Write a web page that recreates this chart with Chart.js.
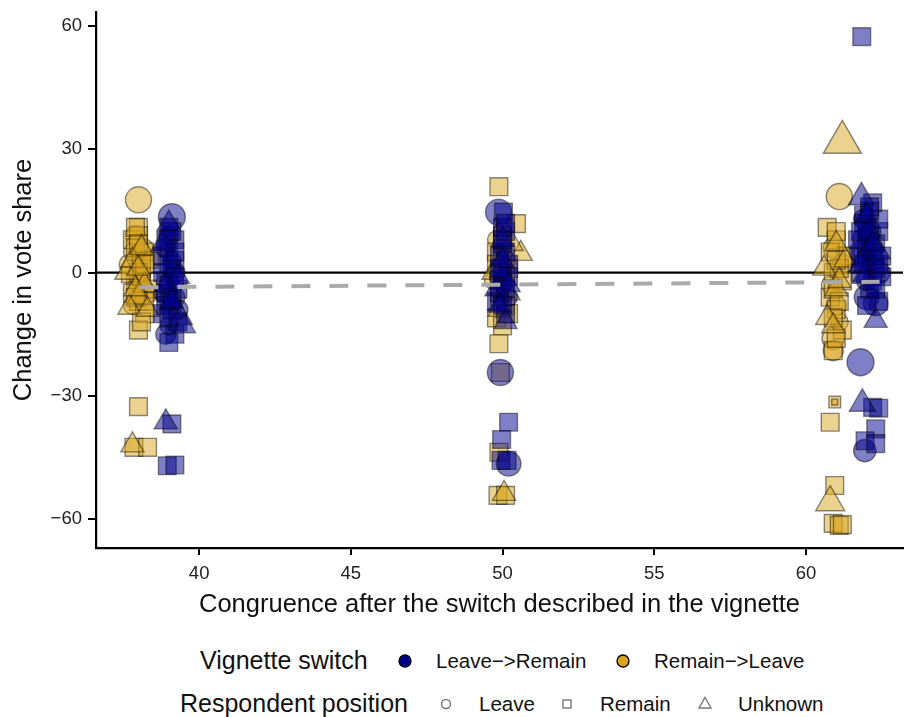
<!DOCTYPE html>
<html>
<head>
<meta charset="utf-8">
<script src="https://cdn.jsdelivr.net/npm/chart.js@4"></script>
<style>
  body { margin: 0; background: #fff; font-family: "Liberation Sans", Arial, sans-serif; }
  #wrap { position: relative; width: 905px; height: 717px; }
  #chartBox { position: absolute; left: 0; top: 0; width: 905px; height: 622px; }
  .lg { position: absolute; white-space: nowrap; color: #111; line-height: 1; }
  .lg.title { font-size: 25px; }
  .lg.item { font-size: 20.5px; }
  .mk { position: absolute; }
</style>
</head>
<body>
<div id="wrap">
  <div id="chartBox"><canvas id="chart" width="905" height="622"></canvas></div>

  <div class="lg title" style="left:200px; top:648px;">Vignette switch</div>
  <svg class="mk" style="left:397px; top:653px;" width="16" height="16"><circle cx="8" cy="8" r="6" fill="#00008b" stroke="#000" stroke-width="1.3"/></svg>
  <div class="lg item" style="left:436px; top:651px;">Leave−&gt;Remain</div>
  <svg class="mk" style="left:615px; top:653px;" width="16" height="16"><circle cx="8" cy="8" r="6" fill="#daa520" stroke="#000" stroke-width="1.3"/></svg>
  <div class="lg item" style="left:654px; top:651px;">Remain−&gt;Leave</div>

  <div class="lg title" style="left:180px; top:691px;">Respondent position</div>
  <svg class="mk" style="left:438px; top:696px;" width="16" height="16"><circle cx="8" cy="8" r="4.5" fill="none" stroke="#777" stroke-width="1.4"/></svg>
  <div class="lg item" style="left:479px; top:694px;">Leave</div>
  <svg class="mk" style="left:559px; top:696px;" width="16" height="16"><rect x="4" y="4" width="8" height="8" fill="none" stroke="#777" stroke-width="1.4"/></svg>
  <div class="lg item" style="left:600px; top:694px;">Remain</div>
  <svg class="mk" style="left:697px; top:695px;" width="16" height="16"><polygon points="8,2.5 14,13 2,13" fill="none" stroke="#777" stroke-width="1.4"/></svg>
  <div class="lg item" style="left:738px; top:694px;">Unknown</div>
</div>

<script>
// x = congruence after switch, y = change in vote share, n = cell size
// Leave->Remain switch
const lrLeaveX = [39.1, 38.9, 39.2, 38.8, 39.3, 39.0, 39.1, 39.0, 39.2, 38.9,
  49.87, 50.0, 49.9, 50.2, 49.93, 50.2,
  61.9, 62.2, 62.0, 62.3, 61.8, 61.94, 61.9, 62.1, 61.8, 62.4, 62.0];
const lrLeaveY = [13.5, 6, 0, -5, -9, -13, 3, 9, -6, -15,
  14.7, 6, -1, -6, -24.3, -46.5,
  8, 3, -2, -7.5, -21.8, -43.3, 13, 10, 5, 0, -6];
const lrLeaveN = [5, 3.5, 3.5, 3, 3.5, 3, 3, 3.5, 3.5, 3.5,
  4.8, 3, 3.5, 3, 4.8, 4.5,
  4, 4, 3.5, 4.5, 5, 4, 3.5, 4, 4, 4, 4.5];

const lrRemainX = [39.0, 39.2, 38.8, 39.1, 38.9, 39.3, 39.0, 38.8, 39.2, 39.0, 39.1, 38.95, 39.2,
  39.0, 39.2, 38.9, 39.1, 39.3, 38.8, 39.0, 39.1, 38.9, 39.0, 39.2, 38.9, 39.1, 39.0, 39.2,
  50.03, 50.1, 49.9, 50.2, 50.0, 49.8, 50.1, 50.2, 49.97, 49.95, 50.15,
  50.0, 50.1, 49.9, 50.0, 50.2, 50.0, 50.1, 49.9, 50.0, 50.1,
  61.84, 62.2, 61.9, 62.4, 62.0, 62.3, 61.8, 62.5, 62.1, 62.4, 62.2, 62.4, 62.3, 61.95, 62.3,
  61.9, 62.1, 62.3, 62.0, 61.8, 62.2, 62.4, 61.7, 62.5, 62.1,
  62.0, 62.2, 61.9, 62.3, 62.1, 61.8, 62.4, 62.0];
const lrRemainY = [11, 8, 4, 1, -2, -4, -7, -10, -15, -17, -36.8, -47, -46.8,
  6, 3, -5, -9, -12, 0, -3, 10, 8, 2, -1, -8, -6, -11, 5,
  14.7, 10, 4, 2, -2, -7, -10, -36.4, -40.6, -45.7, -45.7,
  0, 5, -5, 11, -1, 8, -4, 1, -8, 12,
  57.4, 17, 14, 10, 6, 1, 4, -1, -4, -7, -32.8, -33, -38, -40.9, -41.6,
  12, 9, 7, 3, 0, -2, 13, 8, 4, 15,
  11, 5, 2, -4, 16, 10, 2, -8];
const lrRemainN = [3.5, 3.5, 3.5, 3.5, 3.5, 3.5, 3.5, 3.5, 3.5, 3.5, 3.5, 3.5, 3.5,
  3.5, 3.5, 3.5, 3.5, 3.5, 3.5, 3.5, 3.5, 3.5, 3.5, 3.5, 3.5, 3.5, 3.5, 3.5,
  3.5, 3.5, 3.5, 3.5, 3.5, 3.5, 3.5, 3.5, 3.5, 3.5, 3.5,
  3.5, 3.5, 3.5, 3.5, 3.5, 3.5, 3.5, 3.5, 3.5, 3.5,
  3.5, 3.5, 3.5, 3.5, 3.5, 3.5, 3.5, 3.5, 3.5, 3.5, 3.5, 3.5, 3.5, 3.5, 3.5,
  3.5, 3.5, 3.5, 3.5, 3.5, 3.5, 3.5, 3.5, 3.5, 3.5,
  3.5, 3.5, 3.5, 3.5, 3.5, 3.5, 3.5, 3.5];

const lrUnknownX = [39.0, 39.3, 38.9, 39.4, 39.5, 38.9, 38.8, 39.1,
  50.0, 50.2, 49.8, 50.1, 50.0, 49.9,
  61.83, 62.1, 62.4, 61.9, 62.3, 61.86, 62.0, 62.2, 61.8];
const lrUnknownY = [12, -1, -3, -11, -13, -36.4, 7, -7,
  8, -3, -4, -12, 3, -8,
  18.3, 10, 5, -1, -11.7, -31.9, 14, 7, 2];
const lrUnknownN = [3, 3, 3, 3, 3, 3, 3, 3,
  3, 3, 3, 3, 3, 3,
  3.5, 3, 3, 3, 3, 3.5, 3, 3, 3];

// Remain->Leave switch
const rlLeaveX = [38.0, 37.9, 38.2, 37.7, 38.1, 38.3, 37.8, 38.0, 38.0, 37.8,
  49.8, 50.1, 49.7, 50.0, 50.0,
  61.1, 60.9, 61.2, 60.8, 60.9, 61.1, 61.0, 60.9];
const rlLeaveY = [17.7, 9, 6, 2, -1, -5, -8, 4, -3, 5,
  8, 3, -2, -6, 10,
  18.5, 6, 2, -3, -16, -12, -8, -19];
const rlLeaveN = [4.8, 3.5, 3, 3.5, 3, 3.5, 3, 3, 3.5, 3,
  3, 3.5, 3, 3, 3,
  4.8, 3.5, 3.5, 3, 4, 3, 3.5, 3.5];

const rlRemainX = [38.0, 37.8, 38.2, 38.1, 37.9, 38.3, 38.0, 38.2, 38.0, 37.7, 38.4, 38.0, 37.85, 38.3,
  38.0, 37.9, 38.1, 38.0, 37.8, 38.2, 37.9, 38.1, 38.0, 38.1, 37.9, 38.2,
  49.88, 50.46, 50.0, 49.8, 50.2, 49.9, 50.1, 49.8, 50.0, 49.88, 49.93, 49.88, 49.85, 50.1,
  50.0, 49.9, 50.1, 50.0, 49.8, 50.2,
  60.7, 61.0, 61.3, 60.9, 61.2, 60.8, 61.0, 61.2, 60.9, 60.95, 60.95, 60.8, 60.95, 60.9, 61.1, 61.2,
  61.0, 60.8, 61.1, 60.9, 61.1, 60.9, 61.0, 61.0];
const rlRemainY = [11, 8, 5, 1, -2, -4, -7, -10, -14, -0.5, 3, -32.6, -42.5, -42.5,
  9, 6, 3, 0, -5, -7, 11, -12, 7, -1, -6, 2,
  20.9, 11.9, 9, 5, 1, -3, -8, -11, -13, -17.3, -24.3, -43.7, -54.2, -54.2,
  4, -6, -1, 7, 2, -10,
  11, 8, 4, 0, -2, -6, -9, -14, -19, -31.5, -31.5, -36.4, -51.8, -61, -61.5, -61.3,
  10, 5, 1, -4, -7, -11, -16, 3];
const rlRemainN = [3.5, 3.5, 3.5, 3.5, 3.5, 3.5, 3.5, 3.5, 3.5, 3, 3, 3.5, 3.5, 3.5,
  3.5, 3.5, 3.5, 3.5, 3.5, 3.5, 3.5, 3.5, 3.5, 3.5, 3.5, 3.5,
  3.5, 3.5, 3.5, 3.5, 3.5, 3.5, 3.5, 3.5, 3.5, 3.5, 3.5, 3.5, 3.5, 3.5,
  3.5, 3.5, 3.5, 3.5, 3.5, 3.5,
  3.5, 3.5, 3.5, 3.5, 3.5, 3.5, 3.5, 3.5, 3.5, 2, 0.6, 3.5, 3.5, 3.5, 3.5, 3.5,
  3.5, 3.5, 3.5, 3.5, 3.5, 3.5, 3.5, 3.5];

const rlUnknownX = [37.6, 37.8, 38.2, 38.0, 37.7, 38.3, 37.8, 38.0, 37.9, 38.1,
  50.6, 49.7, 50.2, 49.9, 50.3, 50.05, 50.0, 49.9,
  61.2, 60.6, 61.0, 60.7, 61.3, 60.8, 61.0, 61.1, 60.9];
const rlUnknownY = [0, 3, -3, -6, -8.5, -9, -42, 1, -4, 6,
  4.6, 0, -5, -9, 7, -53.8, -2, 2,
  31.7, 1, -4, -11, 3, -55.9, 7, -2, -13];
const rlUnknownN = [3, 3, 3, 3, 3, 3, 3, 3, 3, 3,
  3, 3, 3, 3, 3, 3, 3, 3,
  5.5, 3, 3, 3, 3, 4, 3, 3, 3];

// linear fit
const fitX = [38.03, 62.43];
const fitY = [-3.57, -2.25];

const xTicks = [40, 45, 50, 55, 60];
const yTicks = [-60, -30, 0, 30, 60];

const BLUE = "rgba(0, 0, 139, 0.5)";
const GOLD = "rgba(218, 165, 32, 0.5)";
const EDGE = "rgba(0, 0, 0, 0.45)";

function pts(xs, ys, ns) {
  return xs.map((x, i) => ({ x: x, y: ys[i], n: ns[i] }));
}

function sizeOf(n) {
  return 2 + 2.3 * n;
}

function pointSet(label, xs, ys, ns, color, shape, factor) {
  return {
    label: label,
    data: pts(xs, ys, ns),
    pointStyle: shape,
    backgroundColor: color,
    borderColor: EDGE,
    borderWidth: 1.4,
    pointRadius: ctx => sizeOf(ctx.raw.n) * factor,
    pointHoverRadius: ctx => sizeOf(ctx.raw.n) * factor,
    order: 2
  };
}

const zeroLine = {
  id: "zeroLine",
  beforeDatasetsDraw(chart) {
    const { ctx, chartArea, scales } = chart;
    const y = scales.y.getPixelForValue(0);
    ctx.save();
    ctx.strokeStyle = "#000";
    ctx.lineWidth = 2.2;
    ctx.beginPath();
    ctx.moveTo(chartArea.left, y);
    ctx.lineTo(chartArea.right, y);
    ctx.stroke();
    ctx.restore();
  }
};

const font = { family: "'Liberation Sans', Arial, sans-serif" };

new Chart(document.getElementById("chart"), {
  type: "scatter",
  data: {
    datasets: [
      {
        label: "fit",
        data: pts(fitX, fitY, [0, 0]),
        showLine: true,
        borderColor: "#aaaaaa",
        borderWidth: 4,
        borderDash: [19, 19],
        pointRadius: 0,
        order: 0
      },
      // first listed is drawn on top
      pointSet("LR Unknown", lrUnknownX, lrUnknownY, lrUnknownN, BLUE, "triangle", 1.5),
      pointSet("LR Remain", lrRemainX, lrRemainY, lrRemainN, BLUE, "rect", 1.25),
      pointSet("LR Leave", lrLeaveX, lrLeaveY, lrLeaveN, BLUE, "circle", 1),
      pointSet("RL Unknown", rlUnknownX, rlUnknownY, rlUnknownN, GOLD, "triangle", 1.5),
      pointSet("RL Remain", rlRemainX, rlRemainY, rlRemainN, GOLD, "rect", 1.25),
      pointSet("RL Leave", rlLeaveX, rlLeaveY, rlLeaveN, GOLD, "circle", 1)
    ]
  },
  options: {
    responsive: false,
    animation: false,
    layout: { autoPadding: false, padding: { top: 12, right: 2, left: 0, bottom: 0 } },
    plugins: {
      legend: { display: false },
      tooltip: { enabled: false }
    },
    scales: {
      x: {
        type: "linear",
        min: 36.6,
        max: 63.2,
        afterBuildTicks: s => { s.ticks = xTicks.map(v => ({ value: v })); },
        afterFit: s => { s.height = 74; s.paddingLeft = 0; s.paddingRight = 0; },
        border: { color: "#000", width: 2.2 },
        grid: { drawOnChartArea: false, drawTicks: true, tickLength: 7, color: "#000", lineWidth: 2 },
        ticks: { color: "#222", padding: 8, font: { ...font, size: 18.5 } },
        title: {
          display: true,
          text: "Congruence after the switch described in the vignette",
          color: "#111",
          padding: { top: 7, bottom: 2 },
          font: { ...font, size: 25.5 }
        }
      },
      y: {
        type: "linear",
        min: -67,
        max: 63.4,
        afterBuildTicks: s => { s.ticks = yTicks.map(v => ({ value: v })); },
        afterFit: s => { s.width = 96; s.paddingTop = 0; s.paddingBottom = 0; },
        border: { color: "#000", width: 2.2 },
        grid: { drawOnChartArea: false, drawTicks: true, tickLength: 8, color: "#000", lineWidth: 2 },
        ticks: {
          color: "#222",
          padding: 6,
          font: { ...font, size: 18.5 },
          callback: v => String(v).replace("-", "\u2212")
        },
        title: {
          display: true,
          text: "Change in vote share",
          color: "#111",
          padding: { top: 9, bottom: 2 },
          font: { ...font, size: 25.5 }
        }
      }
    }
  },
  plugins: [zeroLine]
});
</script>
</body>
</html>
